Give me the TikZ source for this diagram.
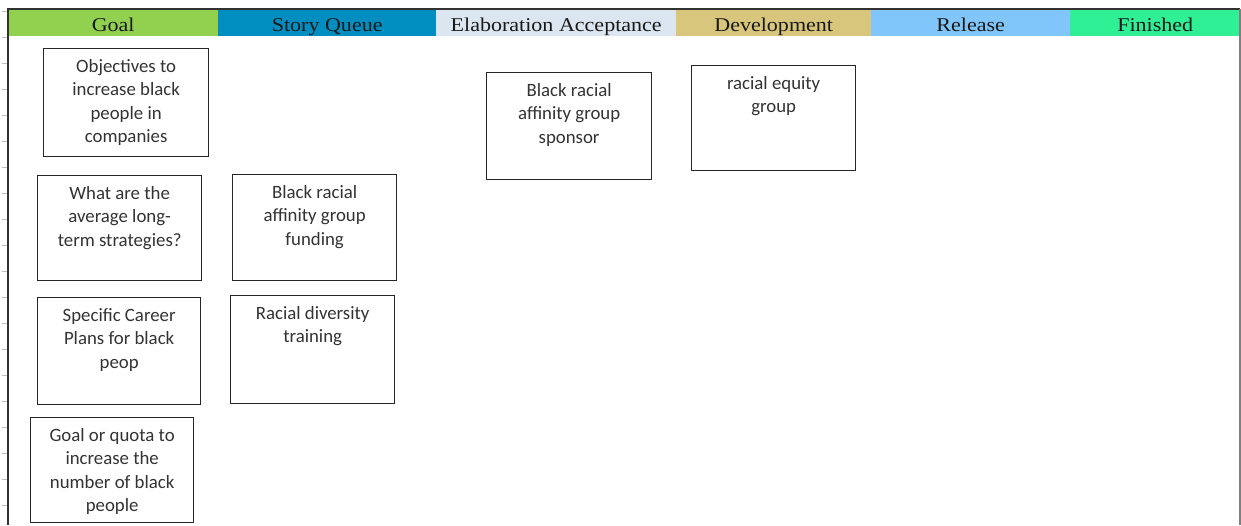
\documentclass[tikz,border=0pt]{standalone}
\usepackage{fontspec}
\usepackage{graphicx}
\newfontfamily\cardfont{Carlito}
\newfontfamily\headfont{Liberation Serif}
\definecolor{cGoal}{RGB}{146,208,80}
\definecolor{cStory}{RGB}{0,142,192}
\definecolor{cElab}{RGB}{220,230,240}
\definecolor{cDev}{RGB}{216,198,124}
\definecolor{cRel}{RGB}{128,198,250}
\definecolor{cFin}{RGB}{48,240,150}
\definecolor{frameC}{RGB}{50,50,50}
\newcommand{\hd}[1]{\scalebox{1.13}[1]{#1}}
\tikzset{
  card/.style={draw=black!85, line width=1.3pt, anchor=north west, inner sep=0pt},
  cardtext/.style={anchor=north, inner sep=0pt, align=center, text=black!80,
    font=\cardfont\fontsize{18.8}{23.5}\selectfont},
  head/.style={anchor=north west, inner sep=0pt, minimum height=26pt},
  headtext/.style={anchor=base, inner sep=0pt, text=black!90,
    font=\headfont\fontsize{19.5}{22}\selectfont},
  tick/.style={draw=black!25, line width=0.8pt}
}
\begin{document}
\begin{tikzpicture}[x=1pt,y=-1pt]
\useasboundingbox (0,0) rectangle (1241,525);
\fill[white] (0,0) rectangle (1241,525);
% ticks
\foreach \k in {0,...,19}{
  \draw[tick] (2,{11+26*\k}) -- (7,{11+26*\k});
}
% header cells
\node[head, fill=cGoal, minimum width=210pt] (hGoal) at (8,10) {};
\node[head, fill=cStory, minimum width=218pt] (hStory) at (218,10) {};
\node[head, fill=cElab, minimum width=240pt] (hElab) at (436,10) {};
\node[head, fill=cDev, minimum width=195pt] (hDev) at (676,10) {};
\node[head, fill=cRel, minimum width=199pt] (hRel) at (871,10) {};
\node[head, fill=cFin, minimum width=170pt] (hFin) at (1070,10) {};
\node[headtext] (tGoal) at ([yshift=5pt]hGoal.south) {\hd{Goal}};
\node[headtext] (tStory) at ([yshift=5pt]hStory.south) {\hd{Story Queue}};
\node[headtext] (tElab) at ([yshift=5pt]hElab.south) {\hd{Elaboration Acceptance}};
\node[headtext] (tDev) at ([yshift=5pt]hDev.south) {\hd{Development}};
\node[headtext] (tRel) at ([yshift=5pt]hRel.south) {\hd{Release}};
\node[headtext] (tFin) at ([yshift=5pt]hFin.south) {\hd{Finished}};
% frame
\draw[frameC, line width=2pt] (8,525) -- (8,9) -- (1240,9);
\draw[black!50, line width=1.5pt] (1240,9) -- (1240,525);
% cards
\node[card, minimum width=165pt, minimum height=108pt] (c1) at (43,48) {};
\node[cardtext] (c1t) at ([yshift=-11pt]c1.north) {Objectives to\\increase black\\people in\\companies};
\node[card, minimum width=164pt, minimum height=105pt] (c2) at (37,175) {};
\node[cardtext] (c2t) at ([yshift=-11pt]c2.north) {What are the\\average long-\\term strategies?};
\node[card, minimum width=163pt, minimum height=107pt] (c3) at (37,297) {};
\node[cardtext] (c3t) at ([yshift=-11pt]c3.north) {Specific Career\\Plans for black\\peop};
\node[card, minimum width=163pt, minimum height=105pt] (c4) at (30,417) {};
\node[cardtext] (c4t) at ([yshift=-11pt]c4.north) {Goal or quota to\\increase the\\number of black\\people};
\node[card, minimum width=164pt, minimum height=106pt] (c5) at (232,174) {};
\node[cardtext] (c5t) at ([yshift=-11pt]c5.north) {Black racial\\affinity group\\funding};
\node[card, minimum width=164pt, minimum height=108pt] (c6) at (230,295) {};
\node[cardtext] (c6t) at ([yshift=-11pt]c6.north) {Racial diversity\\training};
\node[card, minimum width=165pt, minimum height=107pt] (c7) at (486,72) {};
\node[cardtext] (c7t) at ([yshift=-11pt]c7.north) {Black racial\\affinity group\\sponsor};
\node[card, minimum width=164pt, minimum height=105pt] (c8) at (691,65) {};
\node[cardtext] (c8t) at ([yshift=-11pt]c8.north) {racial equity\\group};
\end{tikzpicture}
\end{document}
